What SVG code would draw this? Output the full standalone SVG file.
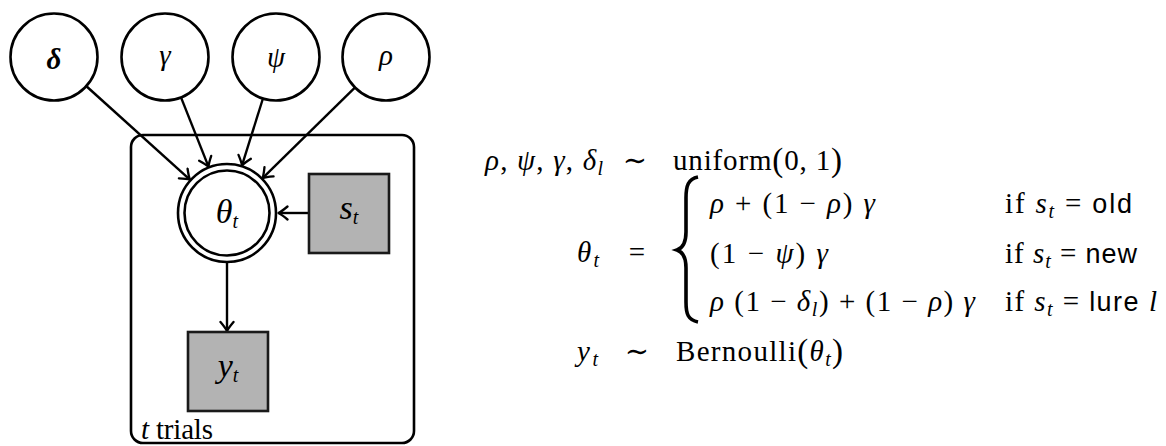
<svg xmlns="http://www.w3.org/2000/svg" width="1166" height="446" viewBox="0 0 1166 446">
<style>
  text { font-family: "Liberation Serif", "DejaVu Serif", serif; font-size: 29px; fill: #000; }
  .mi { font-style: italic; }
  .bi { font-style: italic; font-weight: bold; }
  .sub { font-size: 20px; }
  .sf { font-family: "Liberation Sans", "DejaVu Sans", sans-serif; font-size: 27px; }
  .node { fill: #fff; stroke: #000; stroke-width: 2.6; }
  .obs { fill: #b3b3b3; stroke: #1a1a1a; stroke-width: 2.6; }
  .plate { fill: none; stroke: #000; stroke-width: 2.6; }
  .edge { stroke: #000; stroke-width: 2.4; fill: none; marker-end: url(#arr); }
</style>
<defs>
  <marker id="arr" markerUnits="userSpaceOnUse" viewBox="-12 -8 14 16" refX="0" refY="0" markerWidth="14" markerHeight="16" orient="auto">
    <path d="M -9 -6.5 Q -3 -1.5 0 0 Q -3 1.5 -9 6.5" fill="none" stroke="#000" stroke-width="2.3" stroke-linecap="round" stroke-linejoin="round"/>
  </marker>
</defs>
<rect width="1166" height="446" fill="#fff"/>

<g id="plate">
  <rect class="plate" x="131" y="135" width="283" height="308" rx="12" ry="12"/>
  <text x="141" y="439" font-size="31" textLength="72"><tspan class="mi">t</tspan> trials</text>
</g>

<g id="edges">
  <line class="edge" x1="86.7" y1="86.5" x2="189.9" y2="179.6"/>
  <line class="edge" x1="181.2" y1="97.9" x2="208.5" y2="166.6"/>
  <line class="edge" x1="262.8" y1="99" x2="242" y2="165.4"/>
  <line class="edge" x1="354.6" y1="87.8" x2="262.6" y2="178.1"/>
  <line class="edge" x1="309" y1="213" x2="278.5" y2="213"/>
  <line class="edge" x1="227" y1="262" x2="227" y2="331"/>
</g>

<g id="node-delta">
  <circle class="node" cx="54" cy="57" r="43.5"/>
  <text class="bi" x="54" y="69" text-anchor="middle" font-size="35">δ</text>
</g>
<g id="node-gamma">
  <circle class="node" cx="165" cy="57" r="43.5"/>
  <text class="mi" x="165" y="65" text-anchor="middle" font-size="34">γ</text>
</g>
<g id="node-psi">
  <circle class="node" cx="276" cy="57" r="43.5"/>
  <text class="mi" x="276" y="67" text-anchor="middle" font-size="34">ψ</text>
</g>
<g id="node-rho">
  <circle class="node" cx="386" cy="57" r="43.5"/>
  <text class="mi" x="386" y="65" text-anchor="middle" font-size="34">ρ</text>
</g>
<g id="node-theta">
  <circle class="node" cx="227" cy="213" r="49"/>
  <circle class="node" cx="227" cy="213" r="42.5"/>
  <text x="227" y="223" text-anchor="middle"><tspan class="mi" font-size="34">θ</tspan><tspan class="mi sub" font-size="23" dy="5">t</tspan></text>
</g>
<g id="node-s">
  <rect class="obs" x="309" y="174" width="80" height="79"/>
  <text x="349" y="219" text-anchor="middle"><tspan class="mi" font-size="34">s</tspan><tspan class="mi sub" font-size="23" dy="5">t</tspan></text>
</g>
<g id="node-y">
  <rect class="obs" x="188" y="332" width="80" height="79"/>
  <text x="228" y="377" text-anchor="middle"><tspan class="mi" font-size="34">y</tspan><tspan class="mi sub" font-size="23" dy="5">t</tspan></text>
</g>

<g id="equations">
  <text x="485" y="170" textLength="118"><tspan class="mi">ρ</tspan>, <tspan class="mi">ψ</tspan>, <tspan class="mi">γ</tspan>, <tspan class="mi">δ</tspan><tspan class="mi sub" dy="5">l</tspan></text>
  <text x="635" y="170" text-anchor="middle">∼</text>
  <text x="673" y="170" textLength="169">uniform<tspan font-size="33" dy="1">(</tspan><tspan dy="-1">0, 1</tspan><tspan font-size="33" dy="1">)</tspan></text>

  <text x="577" y="262" textLength="22"><tspan class="mi">θ</tspan><tspan class="mi sub" dy="5">t</tspan></text>
  <text x="637" y="262" text-anchor="middle">=</text>
  <path d="M 698 177 C 688 179 686 186 686 198 L 686 232 C 686 243 683 248 677 250 C 683 252 686 257 686 268 L 686 302 C 686 314 688 320 698 322" fill="none" stroke="#000" stroke-width="3.6"/>

  <text x="710" y="213" textLength="165"><tspan class="mi">ρ</tspan> + (1 − <tspan class="mi">ρ</tspan>) <tspan class="mi">γ</tspan></text>
  <text x="710" y="263" textLength="118">(1 − <tspan class="mi">ψ</tspan>) <tspan class="mi">γ</tspan></text>
  <text x="710" y="311" textLength="265"><tspan class="mi">ρ</tspan> (1 − <tspan class="mi">δ</tspan><tspan class="mi sub" dy="5">l</tspan><tspan dy="-5">) + (1 − </tspan><tspan class="mi">ρ</tspan>) <tspan class="mi">γ</tspan></text>

  <text x="1005" y="213" textLength="127">if <tspan class="mi">s</tspan><tspan class="mi sub" dy="5">t</tspan><tspan dy="-5"> = </tspan><tspan class="sf">old</tspan></text>
  <text x="1005" y="263" textLength="132">if <tspan class="mi">s</tspan><tspan class="mi sub" dy="5">t</tspan><tspan dy="-5"> = </tspan><tspan class="sf">new</tspan></text>
  <text x="1005" y="311" textLength="152">if <tspan class="mi">s</tspan><tspan class="mi sub" dy="5">t</tspan><tspan dy="-5"> = </tspan><tspan class="sf">lure </tspan><tspan class="mi">l</tspan></text>

  <text x="577" y="361" textLength="21"><tspan class="mi">y</tspan><tspan class="mi sub" dy="5">t</tspan></text>
  <text x="637" y="361" text-anchor="middle">∼</text>
  <text x="676" y="361" textLength="167">Bernoulli<tspan font-size="33" dy="1">(</tspan><tspan class="mi" dy="-1">θ</tspan><tspan class="mi sub" dy="5">t</tspan><tspan font-size="33" dy="-4">)</tspan></text>
</g>
</svg>
